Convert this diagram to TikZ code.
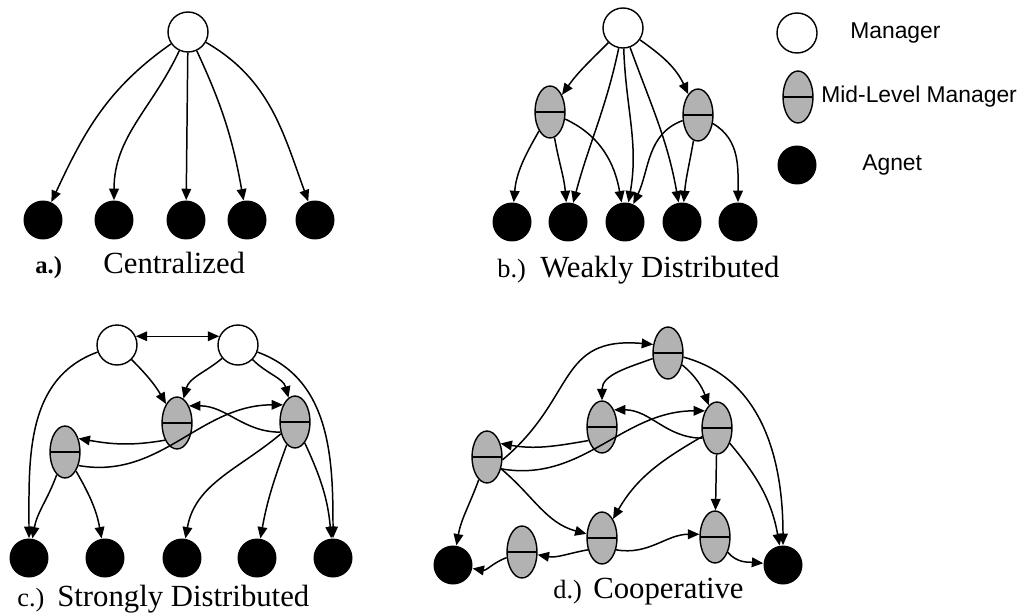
\documentclass[tikz,border=0pt]{standalone}
\usepackage{fontspec}
\setmainfont{Liberation Serif}
\newfontfamily\legendfont{Liberation Sans}
\usetikzlibrary{arrows.meta, shapes.geometric}
\tikzset{
  mgrnode/.style={
    circle, minimum size=0.8cm, inner sep=0pt,
    draw=black, fill=white, line width=0.8pt
  },
  midnode/.style={
    ellipse, minimum width=0.6cm, minimum height=1.04cm, inner sep=0pt,
    draw=black, fill=gray!60, line width=0.8pt,
    path picture={\draw[line width=0.8pt]
      (path picture bounding box.west) -- (path picture bounding box.east);}
  },
  agentnode/.style={
    circle, minimum size=0.78cm, inner sep=0pt, fill=black
  },
  linkarrow/.style={-{Triangle[length=6.5pt,width=5.5pt]}, line width=0.85pt},
  bothlink/.style={{Triangle[length=6.5pt,width=5.5pt]}-{Triangle[length=6.5pt,width=5.5pt]}, line width=0.85pt},
  tagtext/.style={anchor=base west, inner sep=0pt, font=\fontsize{15}{18}\selectfont},
  titletext/.style={anchor=base west, inner sep=0pt, font=\fontsize{17.5}{21}\selectfont},
  legendtext/.style={anchor=west, inner sep=0pt, font=\legendfont\fontsize{13}{15}\selectfont},
}

\begin{document}
\begin{tikzpicture}[x=0.02cm, y=-0.02cm]
\useasboundingbox (0,0) rectangle (1027,615);

% a.) centralized
\node[mgrnode]   (am)  at (188,32)  {};
\node[agentnode] (aa1) at (43,220)  {};
\node[agentnode] (aa2) at (114,220) {};
\node[agentnode] (aa3) at (186,220) {};
\node[agentnode] (aa4) at (247,220) {};
\node[agentnode] (aa5) at (315,220) {};
\draw[linkarrow] (am) to[out=215,in=65] (aa1);
\draw[linkarrow] (am) to[out=245,in=90] (aa2);
\draw[linkarrow] (am) -- (aa3);
\draw[linkarrow] (am) to[out=295,in=100] (aa4);
\draw[linkarrow] (am) to[out=330,in=110] (aa5);
\node[tagtext, font=\bfseries\fontsize{14}{16}\selectfont] (atag) at (35,273) {a.)};
\node[titletext] (atitle) at (103,273) {Centralized};

% b.) weakly distributed
\node[mgrnode]   (bm)  at (623,28)  {};
\node[midnode]   (bl)  at (550,112) {};
\node[midnode]   (br)  at (698,115) {};
\node[agentnode] (ba1) at (512,222) {};
\node[agentnode] (ba2) at (568,222) {};
\node[agentnode] (ba3) at (625,222) {};
\node[agentnode] (ba4) at (682,222) {};
\node[agentnode] (ba5) at (738,222) {};
\draw[linkarrow] (bm) to[out=225,in=55]  (bl);
\draw[linkarrow] (bm) to[out=258,in=75]  (ba2);
\draw[linkarrow] (bm) to[out=272,in=80]  (ba3);
\draw[linkarrow] (bm) to[out=290,in=100] (ba4);
\draw[linkarrow] (bm) to[out=325,in=115] (br);
\draw[linkarrow] (bl) to[out=240,in=85]  (ba1);
\draw[linkarrow] (bl) to[out=280,in=95]  (ba2);
\draw[linkarrow] (bl) to[out=-25,in=100] (ba3);
\draw[linkarrow] (br) to[out=200,in=65]  (ba3);
\draw[linkarrow] (br) to[out=260,in=85]  (ba4);
\draw[linkarrow] (br) to[out=-30,in=90]  (ba5);
\node[tagtext]   (btag)   at (497,277) {b.)};
\node[titletext] (btitle) at (540,277) {Weakly Distributed};

% legend
\node[mgrnode]   (legmgr) at (797,33)  {};
\node[midnode]   (legmid) at (798,97)  {};
\node[agentnode] (legagt) at (797,165) {};
\node[legendtext] at (850,33)  {Manager};
\node[legendtext] at (821,97)  {Mid-Level Manager};
\node[legendtext] at (862,165) {Agnet};

% c.) strongly distributed
\node[mgrnode]   (cm1) at (117,345) {};
\node[mgrnode]   (cm2) at (238,345) {};
\node[midnode]   (cc1) at (177,423) {};
\node[midnode]   (cc2) at (295,422) {};
\node[midnode]   (cc3) at (65,452)  {};
\node[agentnode] (ca1) at (29,558)  {};
\node[agentnode] (ca2) at (105,558) {};
\node[agentnode] (ca3) at (182,558) {};
\node[agentnode] (ca4) at (257,558) {};
\node[agentnode] (ca5) at (333,558) {};
\draw[bothlink]  (cm1.25) -- (cm2.155);
\draw[linkarrow] (cm1) to[out=-45,in=120] (cc1);
\draw[linkarrow] (cm1) to[out=200,in=90]  (ca1);
\draw[linkarrow] (cm2) to[out=220,in=75]  (cc1);
\draw[linkarrow] (cm2) to[out=-45,in=105] (cc2);
\draw[linkarrow] (cm2) to[out=-20,in=90]  (ca5);
\draw[linkarrow] (cc1.235) to[out=190,in=-10] (cc3.45);
\draw[linkarrow] (cc2.215) to[out=180,in=0]   (cc1.55);
\draw[linkarrow] (cc3.-45) to[out=-10,in=180] (cc2.125);
\draw[linkarrow] (cc3) to[out=250,in=80]  (ca1);
\draw[linkarrow] (cc3) to[out=-60,in=100] (ca2);
\draw[linkarrow] (cc2) to[out=220,in=80]  (ca3);
\draw[linkarrow] (cc2) to[out=250,in=80]  (ca4);
\draw[linkarrow] (cc2) to[out=-65,in=95]  (ca5);
\node[tagtext]   (ctag)   at (17,606) {c.)};
\node[titletext] (ctitle) at (57,606) {Strongly Distributed};

% d.) cooperative
\node[midnode]   (dd1) at (668,353) {};
\node[midnode]   (dd2) at (602,427) {};
\node[midnode]   (dd3) at (717,428) {};
\node[midnode]   (dd4) at (487,457) {};
\node[midnode]   (dd5) at (602,538) {};
\node[midnode]   (dd6) at (522,552) {};
\node[midnode]   (dd7) at (715,537) {};
\node[agentnode] (dal) at (453,565) {};
\node[agentnode] (dar) at (783,565) {};
\draw[linkarrow] (dd4.-10) to[out=40,in=175,looseness=1.3] (dd1.150);
\draw[linkarrow] (dd1) to[out=200,in=90]  (dd2);
\draw[linkarrow] (dd1) to[out=-40,in=110] (dd3);
\draw[linkarrow] (dd1) to[out=-15,in=90]  (dar);
\draw[linkarrow] (dd3.215) to[out=180,in=0]   (dd2.55);
\draw[linkarrow] (dd4.-40) to[out=-10,in=180] (dd3.125);
\draw[linkarrow] (dd2.225) to[out=190,in=-10] (dd4.45);
\draw[linkarrow] (dd4) to[out=-40,in=165] (dd5);
\draw[linkarrow] (dd4) to[out=250,in=80]  (dal);
\draw[linkarrow] (dd3) to[out=210,in=60]  (dd5);
\draw[linkarrow] (dd3) -- (dd7);
\draw[linkarrow] (dd3) to[out=-50,in=100] (dar);
\draw[linkarrow] (dd5.-40) to[out=-10,in=180] (dd7.170);
\draw[linkarrow] (dd5.220) to[out=190,in=-10] (dd6);
\draw[linkarrow] (dd6) to[out=200,in=-10] (dal);
\draw[linkarrow] (dd7) to[out=-50,in=175] (dar);
\node[tagtext]   (dtag)   at (553,598) {d.)};
\node[titletext] (dtitle) at (593,598) {Cooperative};
\end{tikzpicture}
\end{document}
